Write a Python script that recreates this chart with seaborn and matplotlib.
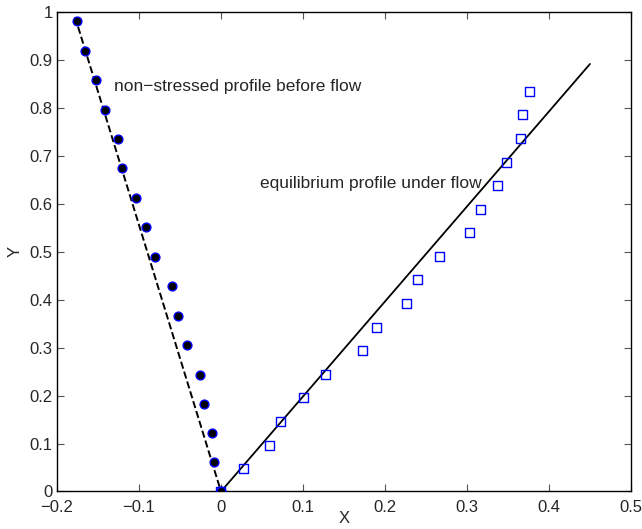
import numpy as np
import pandas as pd
import matplotlib
matplotlib.use("Agg")
import matplotlib.pyplot as plt
import seaborn as sns

# non-stressed profile (filled circles)
x_before = [-0.176, -0.166, -0.152, -0.141, -0.126, -0.121, -0.104, -0.092, -0.081,
            -0.060, -0.053, -0.042, -0.026, -0.021, -0.011, -0.008, 0.0]
y_before = [0.981, 0.920, 0.858, 0.797, 0.736, 0.674, 0.612, 0.551, 0.490,
            0.429, 0.367, 0.305, 0.244, 0.183, 0.122, 0.061, 0.0]

# equilibrium profile under flow (open squares)
x_flow = [0.0, 0.028, 0.059, 0.072, 0.101, 0.128, 0.173, 0.190, 0.226, 0.240,
          0.266, 0.303, 0.317, 0.337, 0.348, 0.365, 0.368, 0.376]
y_flow = [0.0, 0.049, 0.097, 0.147, 0.196, 0.244, 0.294, 0.343, 0.392, 0.442,
          0.491, 0.540, 0.589, 0.638, 0.687, 0.737, 0.786, 0.835]

# fitted lines
x_dash = [-0.178, 0.0]
y_dash = [0.99, 0.0]
x_fit = [0.0, 0.450]
y_fit = [0.0, 0.892]

before = pd.DataFrame({"X": x_before, "Y": y_before})
flow = pd.DataFrame({"X": x_flow, "Y": y_flow})

sns.set_style("ticks")
plt.rcParams["font.family"] = ["Liberation Sans", "DejaVu Sans"]
plt.rcParams["axes.unicode_minus"] = True

fig = plt.figure(figsize=(6.42, 5.29), dpi=100)
ax = fig.add_axes([0.0888, 0.0709, 0.894, 0.906])

sns.lineplot(x=x_dash, y=y_dash, ax=ax, color="black", linestyle="--", linewidth=1.4,
             sort=False, estimator=None)
sns.lineplot(x=x_fit, y=y_fit, ax=ax, color="black", linewidth=1.3,
             sort=False, estimator=None)
sns.scatterplot(data=before, x="X", y="Y", ax=ax, marker="o", s=40,
                color="black", edgecolor="blue", linewidth=1.0, zorder=3)
sns.scatterplot(data=flow, x="X", y="Y", ax=ax, marker="s", s=42,
                facecolor="none", edgecolor="blue", linewidth=1.0, zorder=3)

ax.text(-0.131, 0.846, "non\u2212stressed profile before flow", fontsize=12.5,
        ha="left", va="center")
ax.text(0.047, 0.643, "equilibrium profile under flow", fontsize=12.5,
        ha="left", va="center")

ax.set_xlim(-0.2, 0.5)
ax.set_ylim(0, 1)
ax.set_xticks(np.arange(-0.2, 0.51, 0.1))
ax.set_yticks(np.arange(0, 1.01, 0.1))
ax.set_xticklabels(["\u22120.2", "\u22120.1", "0", "0.1", "0.2", "0.3", "0.4", "0.5"])
ax.set_yticklabels(["0", "0.1", "0.2", "0.3", "0.4", "0.5", "0.6", "0.7", "0.8", "0.9", "1"])
ax.tick_params(direction="in", top=True, right=True, length=5, width=0.8,
               color="#555555", labelsize=12)
ax.tick_params(axis="x", pad=6)
ax.tick_params(axis="y", pad=3)
for sp in ax.spines.values():
    sp.set_visible(True)
    sp.set_linewidth(1.0)
    sp.set_color("black")

ax.set_xlabel("X", fontsize=12, labelpad=-3)
ax.set_ylabel("Y", fontsize=12, labelpad=5)

fig.savefig("out.png", dpi=100)
